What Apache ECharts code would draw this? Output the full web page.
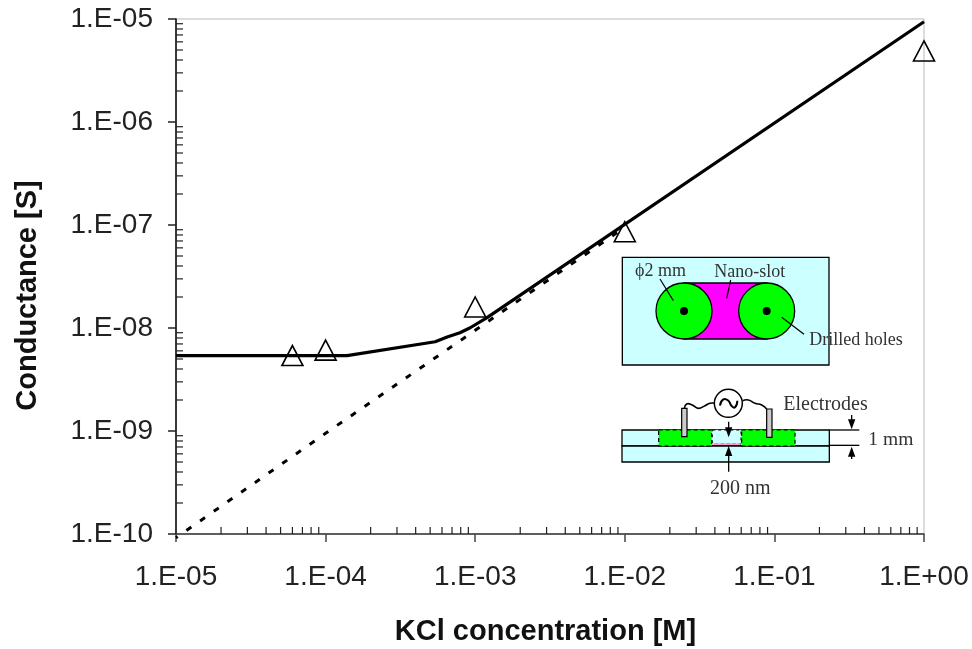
<!DOCTYPE html>
<html><head><meta charset="utf-8">
<style>html,body{margin:0;padding:0;background:#fff}#c{width:972px;height:649px}</style>
<script src="https://cdn.jsdelivr.net/npm/echarts@6/dist/echarts.min.js"></script>
</head><body><div id="c"></div>
<script>
const measuredConc = [6e-5, 1e-4, 1e-3, 1e-2, 1];
const measuredG = [5.4e-9, 6.1e-9, 1.6e-8, 8.6e-8, 4.9e-6];
const modelConc = [1e-5, 1.39e-4, 5.4e-4, 6.5e-4, 7.9e-4, 9.2e-4, 1.2e-3, 1];
const modelG = [5.4e-9, 5.4e-9, 7.36e-9, 8.17e-9, 9e-9, 1e-8, 1.26e-8, 9.4e-6];
const bulkConc = [1e-5, 1e-4, 1e-3, 1e-2];
const bulkG = [9.2e-11, 9.5e-10, 9.5e-9, 9.5e-8];
const xTickLabels = {'-5':'1.E-05','-4':'1.E-04','-3':'1.E-03','-2':'1.E-02','-1':'1.E-01','0':'1.E+00'};
const yTickLabels = {'-10':'1.E-10','-9':'1.E-09','-8':'1.E-08','-7':'1.E-07','-6':'1.E-06','-5':'1.E-05'};
const mult = [2,3,4,5,6,7,8,9];
const decX = [-5,-4,-3,-2,-1], decY = [-10,-9,-8,-7,-6];

const pair = (a,b)=>a.map((v,i)=>[v,b[i]]);
const fmt = map => v => map[String(Math.round(Math.log10(v)))] || '';

// inset schematic (annotation artwork, positioned in pixels)
const P = (x,y)=>[600+x/3, 240+y/3];
const R = (x0,y0,x1,y1,style,z)=>{const a=P(x0,y0),b=P(x1,y1);return {type:'rect',z:z||10,shape:{x:a[0],y:a[1],width:b[0]-a[0],height:b[1]-a[1]},style};};
const L = (pts,w,z,extra,smooth)=>({type:'polyline',z:z||14,shape:{points:pts.map(p=>P(p[0],p[1])),smooth:smooth||0},style:Object.assign({stroke:'#000',lineWidth:w||1.2,fill:null},extra||{})});
const C = (x,y,r,style,z)=>{const a=P(x,y);return {type:'circle',z:z||12,shape:{cx:a[0],cy:a[1],r:r/3},style};};
const T = (x,y,text,size)=>{const a=P(x,y+4);return {type:'text',z:16,x:a[0],y:a[1],style:{text,font:(size||18)+'px "Liberation Serif"',fill:'#333',textAlign:'left',textVerticalAlign:'middle'}};};
const Tri = (x,y,dir)=>{return {type:'polygon',z:15,shape:{points:[P(x-11,y-dir*30),P(x+11,y-dir*30),P(x,y)]},style:{fill:'#000'}};};
const cyan='#ccffff',green='#00ff00',mag='#ff00ff';
const border={stroke:'#000',lineWidth:1.3};
const inset=[
 R(67,52,687,375,Object.assign({fill:cyan},border)),
 R(252,129,500,297,Object.assign({fill:mag},border),11),
 C(252,213,84,Object.assign({fill:green},border)),
 C(500,213,84,Object.assign({fill:green},border)),
 C(252,213,12,{fill:'#000'},13), C(500,213,12,{fill:'#000'},13),
 L([[180,117],[220,182]]), L([[392,120],[380,175]]), L([[545,232],[612,283]]),
 T(105,90,'\u03d52 mm'), T(343,92,'Nano-slot'), T(628,298,'Drilled holes'),
 R(66,570,688,618,Object.assign({fill:cyan},border)),
 R(66,618,688,666,Object.assign({fill:cyan},border)),
 R(176,570,335,618,{fill:green,stroke:'#000',lineWidth:1.2,lineDash:[4,3]},11),
 R(425,570,585,618,{fill:green,stroke:'#000',lineWidth:1.2,lineDash:[4,3]},11),
 R(337,570,423,612,{fill:cyan,stroke:'#000',lineWidth:1,lineDash:[3,3]},11),
 R(337,610,421,615,{fill:'#ff99cc'},11),
 R(245,505,261,590,{fill:'#ccc',stroke:'#000',lineWidth:1.2},13),
 R(500,507,516,592,{fill:'#ccc',stroke:'#000',lineWidth:1.2},13),
 L([[253,505],[260,492],[275,494],[295,505],[315,497],[330,490],[345,490]],1.6,14,null,0.5),
 L([[428,482],[445,480],[465,490],[485,495],[500,507]],1.6,14,null,0.5),
 C(385,490,42,{fill:'#fff',stroke:'#000',lineWidth:1.5},13),
 L([[360,497],[370,478],[385,482],[395,498],[405,502],[412,482]],2,14,null,0.6),
 L([[386,545],[386,580]],1.3), Tri(386,592,1),
 L([[386,695],[386,640]],1.3), Tri(386,618,-1),
 L([[688,570],[778,570]],1.3), L([[688,616],[778,616]],1.3),
 L([[755,525],[755,545]],1.3), Tri(755,568,1),
 L([[755,640],[755,657]],1.3), Tri(755,620,-1),
 T(550,490,'Electrodes',20), T(805,597,'1 mm',19.5), T(330,743,'200 nm',20)
];

const axisFont = {fontFamily:'"Liberation Sans"',fontSize:28,color:'#222'};
const titleFont = {fontFamily:'"Liberation Sans"',fontSize:29,fontWeight:'bold',color:'#111'};
const chart = echarts.init(document.getElementById('c'),null,{renderer:'canvas'});
chart.setOption({
 animation:false,
 backgroundColor:'#fff',
 grid:{left:176,top:19,width:748,height:515,show:true,borderColor:'#bbb',borderWidth:1,containLabel:false,outerBoundsMode:'none'},
 xAxis:[{
   type:'log',logBase:10,min:1e-5,max:1,position:'bottom',
   name:'KCl concentration [M]',nameLocation:'middle',nameGap:83,
   nameTextStyle:Object.assign({padding:[0,9,0,0]},titleFont),
   axisLine:{show:true,onZero:false,lineStyle:{color:'#333',width:1.5}},
   axisTick:{show:true,length:8,lineStyle:{color:'#444',width:1.5}},
   axisLabel:Object.assign({margin:29,formatter:fmt(xTickLabels),showMinLabel:true,showMaxLabel:true,hideOverlap:false},axisFont),
   splitLine:{show:false}
 }],
 yAxis:[{
   type:'log',logBase:10,min:1e-10,max:1e-5,position:'left',
   name:'Conductance [S]',nameLocation:'middle',nameGap:134,
   nameTextStyle:Object.assign({padding:[0,38,0,0]},titleFont),
   axisLine:{show:true,onZero:false,lineStyle:{color:'#000',width:1.5}},
   axisTick:{show:true,length:8,lineStyle:{color:'#222',width:1.5}},
   axisLabel:Object.assign({margin:23,formatter:fmt(yTickLabels),showMinLabel:true,showMaxLabel:true,hideOverlap:false},axisFont),
   splitLine:{show:false}
 }],
 series:[
  {name:'minor ticks',type:'custom',coordinateSystem:'cartesian2d',silent:true,clip:false,z:1,
   data:[].concat(
     ...decX.map(d=>mult.map(m=>[m*Math.pow(10,d),1e-10,0])),
     ...decY.map(d=>mult.map(m=>[1e-5,m*Math.pow(10,d),1]))),
   encode:{x:0,y:1},
   renderItem(params,api){
     const v=api.value(2);
     const p=api.coord([api.value(0),api.value(1)]);
     return {type:'line',shape:{x1:p[0],y1:p[1],x2:p[0]+(v===0?0:7),y2:p[1]-(v===0?7:0)},style:{stroke:'#222',lineWidth:1.2}};
   }},
  {name:'bulk',type:'line',data:pair(bulkConc,bulkG),showSymbol:false,symbol:'none',clip:false,z:3,
   lineStyle:{color:'#000',width:3,type:[6,10.7],dashOffset:4}},
  {name:'model',type:'line',data:pair(modelConc,modelG),showSymbol:false,symbol:'none',clip:false,z:4,
   lineStyle:{color:'#000',width:3.2}},
  {name:'measured',type:'line',data:pair(measuredConc,measuredG),symbol:'triangle',symbolSize:[21,20],clip:false,z:5,
   lineStyle:{width:0,opacity:0},itemStyle:{color:'transparent',borderColor:'#000',borderWidth:1.6},showSymbol:true,showAllSymbol:true}
 ],
 graphic:{elements:inset}
});
</script></body></html>
